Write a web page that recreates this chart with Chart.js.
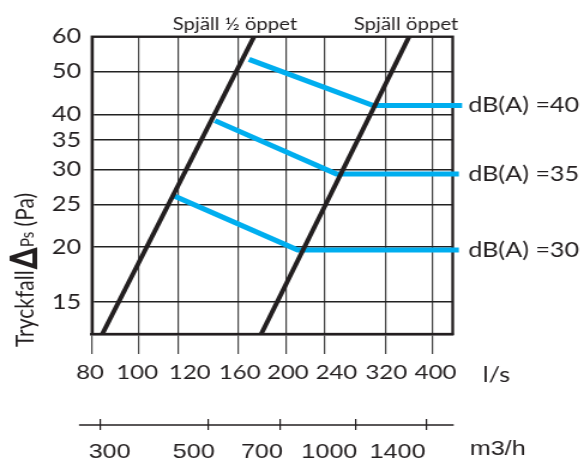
<!DOCTYPE html>
<html>
<head>
<meta charset="utf-8">
<script src="https://cdn.jsdelivr.net/npm/chart.js@4.4.1/dist/chart.umd.min.js"></script>
<style>
html,body{margin:0;padding:0;background:#fff;overflow:hidden;}
#wrap{transform-origin:0 0;}
</style>
</head>
<body>
<div id="wrap"><canvas id="myChart" width="487" height="459"></canvas></div>
<script>
// axes
const xTicksLs = [80,100,120,160,200,240,320,400];
const xTicksM3h = [300,500,700,1000,1400];
const yTicks = [15,20,25,30,35,40,50,60];

// damper lines (l/s , Pa)
const halfOpenX = [84,172];
const halfOpenY = [12.7,60];
const openX = [178,358];
const openY = [12.7,60];

// sound level lines
const db40X = [168,302,460];
const db40Y = [53.3,41.9,41.9];
const db35X = [143,254,453];
const db35Y = [38.7,29.3,29.3];
const db30X = [118,211.5,453];
const db30Y = [26.1,19.7,19.7];

const dbNames = ["dB(A) =40","dB(A) =35","dB(A) =30"];
const damperNames = ["Spjäll ½ öppet","Spjäll öppet"];

// the original picture is stretched sideways, so the canvas is too
const S = 584/487;
document.getElementById("wrap").style.transform = "scaleX(" + S + ")";

// label nudges in page px (the original labels are not centred on their ticks)
const lsShift = [-2,-2,12,1,2,12,1,3];
const m3hShift = [9,-15,-18,-26,-29];

const ink = "#231f20";
const blue = "#00aeef";
const font = "Lato";
const font2 = "Liberation Sans";

function pts(xs,ys){
return xs.map((x,i)=>({x:x,y:ys[i]}));
}

function blackLine(xs,ys){
return {data:pts(xs,ys),showLine:true,borderColor:ink,borderWidth:4,pointRadius:0,borderCapStyle:"butt"};
}

function blueLine(xs,ys){
return {data:pts(xs,ys),showLine:true,borderColor:blue,borderWidth:5,pointRadius:0,clip:false,borderJoinStyle:"round"};
}

const extras = {
id:"extras",
beforeDraw(chart){
[["x",lsShift],["x2",m3hShift]].forEach(p=>{
const items = chart.scales[p[0]].getLabelItems();
items.forEach((it,i)=>{
if(it._moved || !it.options || !it.options.translation) return;
it.options.translation[0] += p[1][i]/S;
it._moved = true;
});
});
},
beforeDatasetsDraw(chart){
const c = chart.ctx;
const a = chart.chartArea;
c.save();
c.strokeStyle = ink;
c.lineWidth = 2.3;
c.strokeRect(a.left,a.top,a.right-a.left,a.bottom-a.top);
// m3/h axis line
const s2 = chart.scales.x2;
c.lineWidth = 1.6;
c.beginPath();
c.moveTo(a.left-13/S,s2.top+6);
c.lineTo(a.right+1/S,s2.top+6);
c.stroke();
c.restore();
},
afterDraw(chart){
const c = chart.ctx;
const a = chart.chartArea;
const xs = chart.scales.x;
const ys = chart.scales.y;
c.save();
c.fillStyle = ink;

// damper names above the top ends
c.font = "17px " + font;
c.textAlign = "center";
c.textBaseline = "alphabetic";
c.fillText(damperNames[0], xs.getPixelForValue(halfOpenX[1])-19/S, a.top-7);
c.fillText(damperNames[1], xs.getPixelForValue(openX[1])-3/S, a.top-7);

// dB labels at line ends
c.font = "21px " + font;
c.textAlign = "left";
c.textBaseline = "middle";
[[db40X,db40Y],[db35X,db35Y],[db30X,db30Y]].forEach((d,i)=>{
const n = d[1].length-1;
c.fillText(dbNames[i], a.right+15.5/S, ys.getPixelForValue(d[1][n]));
});

// unit labels
c.fillText("l/s", a.right+30/S, xs.top+41);
c.font = "21px " + font2;
c.fillText("m3/h", a.right+17/S, chart.scales.x2.top+30);

// y title
c.translate(33/S,347);
c.rotate(-Math.PI/2);
c.textAlign = "left";
c.textBaseline = "alphabetic";
let x = 0;
c.font = "21px " + font;
c.fillText("Tryckfall",x,0);
x += c.measureText("Tryckfall").width + 1;
c.font = "bold 32px DejaVu Sans";
c.fillText("∆",x,3);
x += c.measureText("∆").width;
c.font = "15px " + font;
c.fillText("Ps",x,0);
x += c.measureText("Ps").width;
c.font = "21px " + font;
c.fillText(" (Pa)",x,0);
c.restore();
}
};

const ctx =
document
.getElementById("myChart");

let chart =
new Chart(ctx,{

type:"scatter",

data:{
datasets:[
blackLine(halfOpenX,halfOpenY),
blackLine(openX,openY),
blueLine(db40X,db40Y),
blueLine(db35X,db35Y),
blueLine(db30X,db30Y)
]
},

options:{
responsive:false,
animation:false,
layout:{padding:{left:0,top:36.7,right:487-452.7/S,bottom:0}},
plugins:{legend:{display:false},tooltip:{enabled:false}},
scales:{
x:{
type:"logarithmic",position:"bottom",weight:0,min:80,max:440,
afterBuildTicks:s=>{s.ticks=xTicksLs.map(v=>({value:v}));},
afterFit:s=>{s.height=85;},
ticks:{autoSkip:false,maxRotation:0,padding:7,color:ink,font:{family:font,size:20},callback:v=>String(v)},
grid:{color:"#444",lineWidth:1.2,tickLength:20},
border:{display:true,color:ink,width:2.5}
},
x2:{
type:"logarithmic",position:"bottom",weight:1,min:80*3.6,max:440*3.6,
afterBuildTicks:s=>{s.ticks=xTicksM3h.map(v=>({value:v}));},
afterFit:s=>{s.height=40;},
ticks:{autoSkip:false,maxRotation:0,padding:10,color:ink,font:{family:font2,size:21},callback:v=>String(v)},
grid:{drawOnChartArea:false,color:ink,lineWidth:1.2,tickLength:11},
border:{display:false}
},
y:{
type:"logarithmic",min:12.7,max:60,
afterBuildTicks:s=>{s.ticks=yTicks.map(v=>({value:v}));},
afterFit:s=>{s.width=92/S;},
ticks:{padding:9,color:ink,font:{family:font,size:21},callback:v=>String(v)},
grid:{color:"#222",lineWidth:1.4,drawTicks:false},
border:{display:true,color:ink,width:2.2}
}
}
},

plugins:[extras]

});
</script>
</body>
</html>
